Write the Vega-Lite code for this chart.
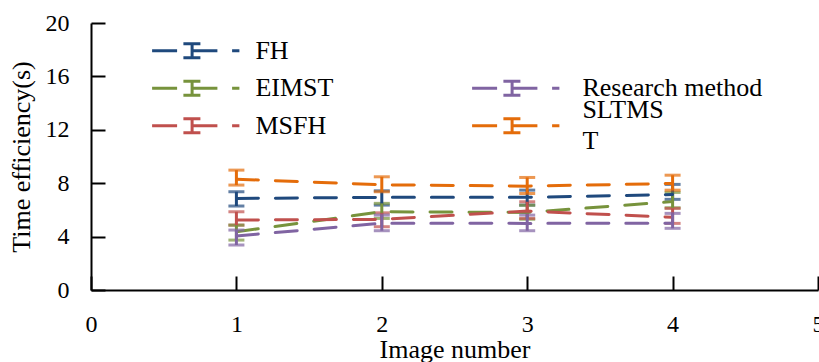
{
  "$schema": "https://vega.github.io/schema/vega-lite/v6.json",
  "width": 727,
  "height": 267,
  "autosize": {"type": "none"},
  "padding": {"left": 91, "top": 23, "right": 1, "bottom": 72},
  "background": "white",
  "data": {
    "values": [
      {"img": 1, "method": "FH", "v": 6.86, "lo": 6.29, "hi": 7.36},
      {"img": 2, "method": "FH", "v": 6.94, "lo": 6.36, "hi": 7.43},
      {"img": 3, "method": "FH", "v": 6.94, "lo": 6.36, "hi": 7.48},
      {"img": 4, "method": "FH", "v": 7.15, "lo": 6.79, "hi": 7.91},
      {"img": 1, "method": "EIMST", "v": 4.36, "lo": 3.74, "hi": 4.86},
      {"img": 2, "method": "EIMST", "v": 5.86, "lo": 5.36, "hi": 6.49},
      {"img": 3, "method": "EIMST", "v": 5.81, "lo": 5.3, "hi": 6.35},
      {"img": 4, "method": "EIMST", "v": 6.62, "lo": 6.16, "hi": 7.31},
      {"img": 1, "method": "MSFH", "v": 5.24, "lo": 4.86, "hi": 5.86},
      {"img": 2, "method": "MSFH", "v": 5.29, "lo": 4.74, "hi": 5.78},
      {"img": 3, "method": "MSFH", "v": 5.91, "lo": 5.36, "hi": 6.61},
      {"img": 4, "method": "MSFH", "v": 5.45, "lo": 4.99, "hi": 6.11},
      {"img": 1, "method": "Research method", "v": 4.05, "lo": 3.37, "hi": 4.49},
      {"img": 2, "method": "Research method", "v": 5.0, "lo": 4.44, "hi": 5.61},
      {"img": 3, "method": "Research method", "v": 4.99, "lo": 4.44, "hi": 5.61},
      {"img": 4, "method": "Research method", "v": 5.0, "lo": 4.62, "hi": 5.74},
      {"img": 1, "method": "SLTMS T", "v": 8.3, "lo": 7.86, "hi": 8.98},
      {"img": 2, "method": "SLTMS T", "v": 7.88, "lo": 7.36, "hi": 8.48},
      {"img": 3, "method": "SLTMS T", "v": 7.78, "lo": 7.23, "hi": 8.43},
      {"img": 4, "method": "SLTMS T", "v": 7.98, "lo": 7.48, "hi": 8.6}
    ]
  },
  "encoding": {
    "x": {
      "field": "img",
      "type": "quantitative",
      "scale": {"domain": [0, 5], "nice": false},
      "axis": {"values": [0, 1, 2, 3, 4, 5], "title": "Image number", "labelPadding": 36, "titlePadding": 0}
    }
  },
  "layer": [
    {
      "transform": [{"filter": "indexof(['FH','EIMST','MSFH'], datum.method) >= 0"}],
      "encoding": {
        "color": {
          "field": "method",
          "type": "nominal",
          "scale": {"domain": ["FH", "EIMST", "MSFH"], "range": ["#1F497D", "#77933C", "#C0504D"]},
          "legend": {
            "orient": "none", "legendX": 91.7, "legendY": 14.7, "title": null, "padding": 0,
            "direction": "vertical", "rowPadding": 11.5,
            "symbolType": "M-4.36,0L-1.86,0M-0.36,0L2.17,0M3.64,0L4.37,0M-0.36,-0.7L-0.36,0.7M-1.23,-0.7L0.47,-0.7M-1.23,0.7L0.47,0.7",
            "symbolSize": 400, "symbolStrokeWidth": 3, "symbolDash": [100, 0], "symbolOffset": 0, "symbolOpacity": 1, "labelOffset": 46.7,
            "labelFontSize": 26, "labelColor": "black", "labelLimit": 400
          }
        }
      },
      "layer": [
        {
          "mark": {"type": "errorbar", "ticks": true, "size": 16, "thickness": 3},
          "encoding": {
            "y": {"field": "lo", "type": "quantitative", "title": "Time efficiency(s)", "scale": {"domain": [0, 20], "nice": false}, "axis": {"values": [0, 4, 8, 12, 16, 20], "title": "Time efficiency(s)", "labelPadding": 36, "titlePadding": 11}},
            "y2": {"field": "hi"}
          }
        },
        {
          "mark": {"type": "line", "strokeWidth": 3, "strokeDash": [22, 17], "strokeCap": "round"},
          "encoding": {
            "y": {"field": "v", "type": "quantitative", "title": "Time efficiency(s)", "scale": {"domain": [0, 20], "nice": false}}
          }
        }
      ]
    },
    {
      "transform": [{"filter": "datum.method == 'Research method'"}],
      "encoding": {
        "color": {
          "field": "method",
          "type": "nominal",
          "scale": {"domain": ["Research method"], "range": ["#8064A2"]},
          "legend": {
            "orient": "none", "legendX": 411.7, "legendY": 52.3, "title": null, "padding": 0,
            "direction": "vertical",
            "symbolType": "M-4.36,0L-1.86,0M-0.36,0L2.17,0M3.64,0L4.37,0M-0.36,-0.7L-0.36,0.7M-1.23,-0.7L0.47,-0.7M-1.23,0.7L0.47,0.7",
            "symbolSize": 400, "symbolStrokeWidth": 3, "symbolDash": [100, 0], "symbolOffset": 0, "symbolOpacity": 1, "labelOffset": 53.7,
            "labelFontSize": 26, "labelColor": "black", "labelLimit": 400
          }
        }
      },
      "layer": [
        {
          "mark": {"type": "errorbar", "ticks": true, "size": 16, "thickness": 3},
          "encoding": {
            "y": {"field": "lo", "type": "quantitative", "title": "Time efficiency(s)", "scale": {"domain": [0, 20], "nice": false}},
            "y2": {"field": "hi"}
          }
        },
        {
          "mark": {"type": "line", "strokeWidth": 3, "strokeDash": [22, 17], "strokeCap": "round"},
          "encoding": {
            "y": {"field": "v", "type": "quantitative", "title": "Time efficiency(s)", "scale": {"domain": [0, 20], "nice": false}}
          }
        }
      ]
    },
    {
      "transform": [{"filter": "datum.method == 'SLTMS T'"}],
      "encoding": {
        "color": {
          "field": "method",
          "type": "nominal",
          "scale": {"domain": ["SLTMS T"], "range": ["#E46C0A"]},
          "legend": {
            "orient": "none", "legendX": 411.7, "legendY": 89.7, "title": null, "padding": 0,
            "direction": "vertical",
            "labelExpr": "['SLTMS', 'T']",
            "labelBaseline": "line-bottom",
            "symbolType": "M-4.36,0L-1.86,0M-0.36,0L2.17,0M3.64,0L4.37,0M-0.36,-0.7L-0.36,0.7M-1.23,-0.7L0.47,-0.7M-1.23,0.7L0.47,0.7",
            "symbolSize": 400, "symbolStrokeWidth": 3, "symbolDash": [100, 0], "symbolOffset": 0, "symbolOpacity": 1, "labelOffset": 53.7,
            "labelFontSize": 26, "labelColor": "black", "labelLimit": 400
          }
        }
      },
      "layer": [
        {
          "mark": {"type": "errorbar", "ticks": true, "size": 16, "thickness": 3},
          "encoding": {
            "y": {"field": "lo", "type": "quantitative", "title": "Time efficiency(s)", "scale": {"domain": [0, 20], "nice": false}},
            "y2": {"field": "hi"}
          }
        },
        {
          "mark": {"type": "line", "strokeWidth": 3, "strokeDash": [22, 17], "strokeCap": "round"},
          "encoding": {
            "y": {"field": "v", "type": "quantitative", "title": "Time efficiency(s)", "scale": {"domain": [0, 20], "nice": false}}
          }
        }
      ]
    }
  ],
  "resolve": {"scale": {"color": "independent"}, "legend": {"color": "independent"}},
  "config": {
    "font": "Liberation Serif",
    "view": {"stroke": null},
    "legend": {"labelFont": "Liberation Serif"},
    "style": {
      "guide-label": {"font": "Liberation Serif", "fill": "black", "lineHeight": 31},
      "guide-title": {"font": "Liberation Serif", "fill": "black"}
    },
    "axis": {
      "grid": false,
      "domainColor": "black",
      "domainWidth": 2,
      "tickColor": "black",
      "tickWidth": 2,
      "tickSize": -14,
      "labelFont": "Liberation Serif",
      "labelFontSize": 24,
      "labelColor": "black",
      "labelFlush": false,
      "labelOverlap": false,
      "titleFont": "Liberation Serif",
      "titleFontSize": 26,
      "titleFontWeight": "normal",
      "titleColor": "black"
    }
  }
}
